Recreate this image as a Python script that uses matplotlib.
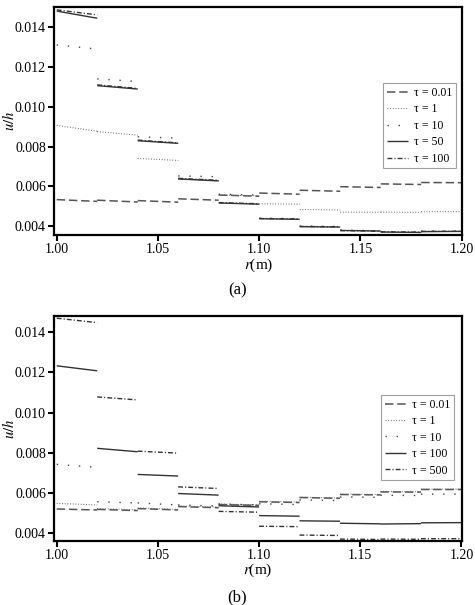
import numpy as np
import matplotlib
matplotlib.use("Agg")
import matplotlib.pyplot as plt

plt.rcParams['font.family'] = ['Liberation Serif', 'DejaVu Serif']
plt.rcParams['mathtext.fontset'] = 'stix'

r_edges = [1.00, 1.02, 1.04, 1.06, 1.08, 1.10, 1.12, 1.14, 1.16, 1.18, 1.20]

# ---- panel (a): value at start / end of each radial segment ----
a_labels = ["τ = 0.01", "τ = 1", "τ = 10", "τ = 50", "τ = 100"]
a_t001_start = [0.00533, 0.00530, 0.00528, 0.00537, 0.00556, 0.00566, 0.00580, 0.00598, 0.00612, 0.00619]
a_t001_end   = [0.00524, 0.00521, 0.00520, 0.00530, 0.00550, 0.00560, 0.00575, 0.00594, 0.00609, 0.00618]
a_t1_start   = [0.00906, 0.00875, 0.00740, 0.00636, 0.00556, 0.00512, 0.00483, 0.00470, 0.00470, 0.00472]
a_t1_end     = [0.00877, 0.00857, 0.00730, 0.00628, 0.00552, 0.00510, 0.00481, 0.00469, 0.00469, 0.00473]
a_t10_start  = [0.01311, 0.01140, 0.00849, 0.00652, 0.00560, 0.00440, 0.00400, 0.00380, 0.00372, 0.00375]
a_t10_end    = [0.01290, 0.01127, 0.00842, 0.00648, 0.00556, 0.00437, 0.00398, 0.00376, 0.00370, 0.00374]
a_t50_start  = [0.01481, 0.01106, 0.00829, 0.00637, 0.00516, 0.00437, 0.00397, 0.00378, 0.00370, 0.00372]
a_t50_end    = [0.01445, 0.01089, 0.00816, 0.00627, 0.00510, 0.00434, 0.00395, 0.00375, 0.00368, 0.00373]
a_t100_start = [0.01487, 0.01110, 0.00832, 0.00640, 0.00518, 0.00438, 0.00398, 0.00377, 0.00371, 0.00373]
a_t100_end   = [0.01462, 0.01092, 0.00818, 0.00630, 0.00512, 0.00435, 0.00396, 0.00374, 0.00369, 0.00374]

# ---- panel (b) ----
b_labels = ["τ = 0.01", "τ = 1", "τ = 10", "τ = 100", "τ = 500"]
b_t001_start = [0.00520, 0.00518, 0.00522, 0.00532, 0.00542, 0.00556, 0.00577, 0.00592, 0.00605, 0.00617]
b_t001_end   = [0.00515, 0.00512, 0.00515, 0.00526, 0.00538, 0.00552, 0.00573, 0.00590, 0.00604, 0.00617]
b_t1_start   = [0.00548, 0.00522, 0.00525, 0.00535, 0.00545, 0.00558, 0.00579, 0.00594, 0.00607, 0.00619]
b_t1_end     = [0.00540, 0.00516, 0.00518, 0.00529, 0.00540, 0.00555, 0.00575, 0.00592, 0.00606, 0.00619]
b_t10_start  = [0.00742, 0.00556, 0.00550, 0.00540, 0.00545, 0.00546, 0.00565, 0.00580, 0.00588, 0.00594]
b_t10_end    = [0.00727, 0.00550, 0.00540, 0.00535, 0.00540, 0.00542, 0.00562, 0.00578, 0.00587, 0.00594]
b_t100_start = [0.01233, 0.00822, 0.00692, 0.00597, 0.00536, 0.00487, 0.00461, 0.00449, 0.00445, 0.00451]
b_t100_end   = [0.01208, 0.00805, 0.00684, 0.00589, 0.00530, 0.00484, 0.00459, 0.00446, 0.00447, 0.00452]
b_t500_start = [0.01470, 0.01078, 0.00808, 0.00630, 0.00508, 0.00434, 0.00390, 0.00370, 0.00370, 0.00372]
b_t500_end   = [0.01448, 0.01063, 0.00798, 0.00622, 0.00504, 0.00432, 0.00388, 0.00368, 0.00369, 0.00372]

x_ticks = [1.00, 1.05, 1.10, 1.15, 1.20]
y_ticks = [0.004, 0.006, 0.008, 0.010, 0.012, 0.014]

styles = [
    dict(color='#555555', lw=1.1, linestyle=(0, (5.5, 2.5))),
    dict(color='#666666', lw=0.8, linestyle=(0, (0.8, 1.6))),
    dict(color='#444444', lw=1.0, linestyle=(0, (1, 7))),
    dict(color='#333333', lw=1.0, linestyle='-'),
    dict(color='#333333', lw=1.0, linestyle=(0, (3.5, 1.5, 0.8, 1.5))),
]


def seg_xy(starts, ends):
    xs, ys = [], []
    for k in range(len(starts)):
        xs += [r_edges[k], r_edges[k + 1], np.nan]
        ys += [starts[k], ends[k], np.nan]
    return xs, ys


fig = plt.figure(figsize=(4.75, 6.05), dpi=100)
ax_a = fig.add_axes([54.3 / 475, 1 - 235 / 605, (462.3 - 54.3) / 475, (235 - 7.3) / 605])
ax_b = fig.add_axes([54.3 / 475, 1 - 540.7 / 605, (462.0 - 54.3) / 475, (540.7 - 316) / 605])

panels = [
    (ax_a, a_labels, [(a_t001_start, a_t001_end), (a_t1_start, a_t1_end), (a_t10_start, a_t10_end),
                      (a_t50_start, a_t50_end), (a_t100_start, a_t100_end)],
     (0.00355, 0.0150), (0.984, 0.666), "(a)", 290),
    (ax_b, b_labels, [(b_t001_start, b_t001_end), (b_t1_start, b_t1_end), (b_t10_start, b_t10_end),
                      (b_t100_start, b_t100_end), (b_t500_start, b_t500_end)],
     (0.00362, 0.01481), (0.980, 0.648), "(b)", 597),
]

for ax, labels, series, ylim, lpos, cap, cap_y in panels:
    for (s, e), lab, st in zip(series, labels, styles):
        xs, ys = seg_xy(s, e)
        ax.plot(xs, ys, label=lab, solid_capstyle='butt', dash_capstyle='butt', **st)
    ax.set_xlim(0.9988, 1.2003)
    ax.set_ylim(*ylim)
    ax.set_xticks(x_ticks)
    ax.set_xticklabels([f"{v:.2f}" for v in x_ticks])
    ax.set_yticks(y_ticks)
    ax.set_yticklabels([f"{v:.3f}" for v in y_ticks])
    for sp in ax.spines.values():
        sp.set_linewidth(1.6)
    ax.tick_params(direction='out', length=4, width=1.5, labelsize=10, pad=2)
    ax.set_xlabel('$r$(m)', fontsize=11, labelpad=0)
    ax.set_ylabel('$u/h$', fontsize=10.5)
    bbox = ax.get_position()
    ax.yaxis.set_label_coords((16.5 / 475 - bbox.x0) / bbox.width, 0.5)
    leg = ax.legend(loc='upper right', bbox_to_anchor=lpos, borderaxespad=0,
                    fontsize=8.5, frameon=True, fancybox=False, handlelength=1.8,
                    handletextpad=0.5, labelspacing=0.38, borderpad=0.3)
    leg.get_frame().set_edgecolor('#888888')
    leg.get_frame().set_linewidth(0.8)
    fig.text(0.5, 1 - cap_y / 605, cap, ha='center', va='center', fontsize=12)

fig.savefig("out.png", dpi=100)
